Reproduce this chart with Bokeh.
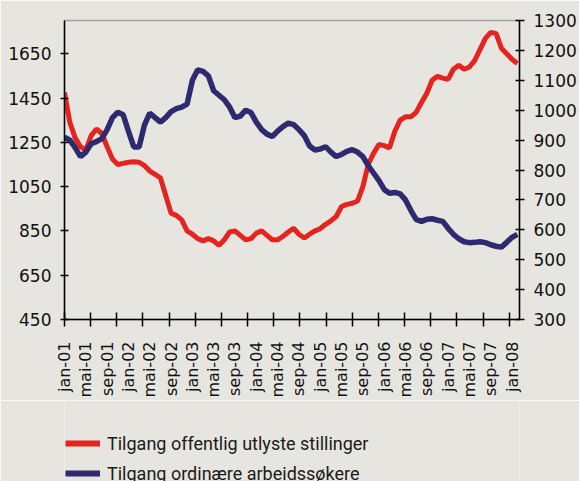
import math
from bokeh.plotting import figure
from bokeh.layouts import column
from bokeh.models import Range1d, LinearAxis, FixedTicker, Legend, LegendItem
from bokeh.embed import file_html
from bokeh.resources import INLINE

# Monthly data, jan-01 .. feb-08
offentlig_utlyste = [
    1475, 1340, 1270, 1230, 1215, 1280, 1310, 1290, 1230, 1175, 1150, 1155,   # 2001
    1160, 1162, 1160, 1145, 1120, 1105, 1090, 1010, 930, 920, 900, 850,       # 2002
    835, 815, 805, 815, 805, 785, 810, 845, 850, 830, 810, 815,               # 2003
    840, 850, 830, 810, 810, 825, 845, 862, 835, 818, 835, 850,               # 2004
    860, 880, 895, 915, 960, 970, 975, 985, 1050, 1150, 1200, 1240,           # 2005
    1235, 1225, 1300, 1350, 1365, 1365, 1385, 1430, 1471, 1530, 1548, 1540,   # 2006
    1535, 1580, 1598, 1580, 1590, 1620, 1670, 1719, 1746, 1742, 1675, 1650,   # 2007
    1625, 1606,                                                               # 2008
]
ordinaere_sokere = [
    910, 900, 875, 845, 860, 888, 895, 905, 935, 975, 993, 985,
    930, 877, 877, 950, 990, 975, 960, 975, 995, 1005, 1010, 1020,
    1100, 1135, 1130, 1115, 1065, 1050, 1035, 1010, 975, 980, 1000, 992,
    960, 935, 920, 912, 930, 945, 957, 952, 935, 915, 880, 867,
    870, 878, 860, 845, 852, 862, 868, 860, 845, 815, 790, 765,
    735, 722, 725, 720, 700, 665, 635, 628, 635, 637, 632, 628,
    605, 585, 570, 560, 557, 558, 560, 557, 550, 545, 542, 558,
    575, 585,
]
x_tick_labels = ["jan-01", "mai-01", "sep-01", "jan-02", "mai-02", "sep-02",
                 "jan-03", "mai-03", "sep-03", "jan-04", "mai-04", "sep-04",
                 "jan-05", "mai-05", "sep-05", "jan-06", "mai-06", "sep-06",
                 "jan-07", "mai-07", "sep-07", "jan-08"]
left_ticks = [450, 650, 850, 1050, 1250, 1450, 1650]
right_ticks = [300, 400, 500, 600, 700, 800, 900, 1000, 1100, 1200, 1300]
series_names = ["Tilgang offentlig utlyste stillinger", "Tilgang ordinære arbeidssøkere"]

BG = "#e6e5df"
RED = "#e5231f"
NAVY = "#2d2a6f"
RED_W = 5
NAVY_W = 5.5

x = list(range(len(offentlig_utlyste)))
label_pos = [4 * i for i in range(len(x_tick_labels))]
tick_marks = [round(k * 4.91, 3) for k in range(18)]

p = figure(width=579, height=400, output_backend="svg", toolbar_location=None,
           x_range=Range1d(0, 85.4), y_range=Range1d(450, 1800),
           min_border_left=64, min_border_right=59, min_border_top=20, min_border_bottom=80,
           background_fill_color=BG, border_fill_color=BG)
p.extra_y_ranges = {"right": Range1d(300, 1300)}
p.grid.visible = False
p.outline_line_color = "#a3a3a3"
p.outline_line_width = 1.5

r1 = p.line(x, offentlig_utlyste, line_color=RED, line_width=RED_W)
r2 = p.line(x, ordinaere_sokere, line_color=NAVY, line_width=NAVY_W, y_range_name="right")

tick_font = "DejaVu Sans"

xa = p.xaxis[0]
xa.ticker = FixedTicker(ticks=label_pos, minor_ticks=tick_marks)
xa.major_label_overrides = {pos: lab for pos, lab in zip(label_pos, x_tick_labels)}
xa.major_label_orientation = math.pi / 2
xa.major_tick_line_color = None
xa.minor_tick_line_color = "black"
xa.minor_tick_line_width = 1.5
xa.minor_tick_in = 7
xa.minor_tick_out = 7
xa.major_tick_out = 7
xa.major_label_standoff = 15
xa.axis_line_color = "black"
xa.axis_line_width = 1.5
xa.major_label_text_font = tick_font
xa.major_label_text_font_size = "16px"
xa.major_label_text_color = "#111111"

ya = p.yaxis[0]
ya.ticker = FixedTicker(ticks=left_ticks)
ya.major_tick_in = 4
ya.major_tick_out = 4
ya.minor_tick_line_color = None
ya.major_label_standoff = 9
ya.axis_line_color = "black"
ya.axis_line_width = 1.5
ya.major_tick_line_width = 1.5
ya.major_label_text_font = tick_font
ya.major_label_text_font_size = "17px"
ya.major_label_text_color = "#111111"

ra = LinearAxis(y_range_name="right", ticker=FixedTicker(ticks=right_ticks))
ra.major_tick_in = 4
ra.major_tick_out = 5
ra.minor_tick_line_color = None
ra.major_label_standoff = 9
ra.axis_line_color = "black"
ra.axis_line_width = 1.5
ra.major_tick_line_width = 1.5
ra.major_label_text_font = tick_font
ra.major_label_text_font_size = "17px"
ra.major_label_text_color = "#111111"
p.add_layout(ra, "right")

# Legend strip below the chart (series drawn off-range, only the legend shows)
pl = figure(width=579, height=81, output_backend="svg", toolbar_location=None,
            x_range=Range1d(0, 1), y_range=Range1d(0, 1),
            x_axis_location=None, y_axis_location=None,
            min_border=0, background_fill_color=BG, border_fill_color=BG)
pl.grid.visible = False
pl.outline_line_color = None
lr1 = pl.line(x, offentlig_utlyste, line_color=RED, line_width=6)
lr2 = pl.line(x, ordinaere_sokere, line_color=NAVY, line_width=6)

legend = Legend(items=[LegendItem(label=series_names[0], renderers=[lr1]),
                       LegendItem(label=series_names[1], renderers=[lr2])],
                location=(1, -4), orientation="vertical", margin=0, padding=0,
                border_line_color=None, background_fill_alpha=0,
                glyph_width=35, glyph_height=24, label_height=24, spacing=6,
                label_standoff=7, label_text_font="Roboto", label_text_font_size="18px",
                label_text_color="#1a1a1a")
pl.add_layout(legend)

open("out.html", "w").write(file_html(column(p, pl, spacing=0), INLINE))
